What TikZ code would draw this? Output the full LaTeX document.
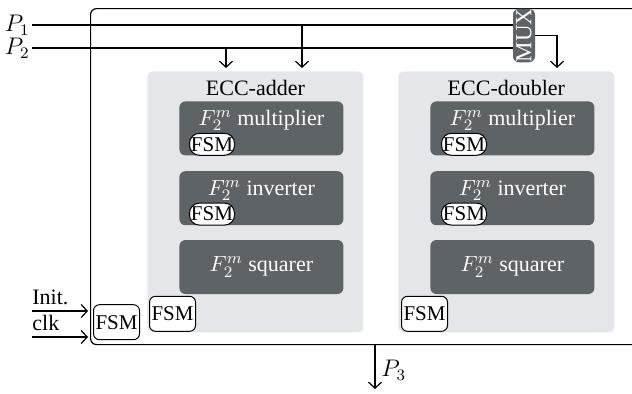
\documentclass[tikz,border=0pt]{standalone}
\usepackage{fontspec}
\setmainfont{Liberation Serif}
\usetikzlibrary{arrows.meta}
\usetikzlibrary{positioning}
\definecolor{unitgray}{HTML}{E4E6EA}
\definecolor{coregray}{HTML}{5D6367}

\begin{document}
\begin{tikzpicture}[x=0.5pt, y=-0.5pt, font=\fontsize{11}{13}\selectfont,
  wire/.style={line width=0.6pt},
  sig/.style={wire, -{Straight Barb[length=3pt, width=6.5pt]}},
  unit/.style={fill=unitgray, rounded corners=2.5pt, inner sep=0pt,
    minimum width=108pt, minimum height=130.5pt},
  core/.style={fill=coregray, text=white, rounded corners=3pt, inner sep=2.5pt,
    minimum width=82pt, minimum height=27pt},
  coretop/.style={core, text height=9.5pt, text depth=12.5pt},
  fsm/.style={draw, fill=white, line width=0.5pt, rounded corners=3pt, inner sep=1pt,
    minimum width=21.5pt, minimum height=17.5pt, font=\fontsize{10.5}{12}\selectfont},
  subfsm/.style={draw, fill=white, line width=0.5pt, rounded corners=5pt, inner sep=0.5pt,
    minimum width=22.5pt, minimum height=11pt, font=\fontsize{10.5}{12}\selectfont},
  mux/.style={fill=coregray, text=white, rounded corners=3pt, inner sep=0pt,
    rotate=90, minimum width=24.5pt, minimum height=11pt, font=\fontsize{11.5}{13}\selectfont}
]
  \useasboundingbox (0,0) rectangle (632,393);
  \clip (0,0) rectangle (632,393);

  % chip outline (runs past the right edge)
  \node[draw, wire, rounded corners=3pt, anchor=north west,
    minimum width=320pt, minimum height=168pt] (chip) at (90,8) {};

  % point units
  \node[unit, anchor=north west] (adder) at (147,71) {};
  \node[unit, anchor=north west] (doubler) at (398,71) {};
  \node at ([yshift=-8.5pt]adder.north) (adderlbl) {ECC-adder};
  \node at ([yshift=-8.5pt]doubler.north) (doublerlbl) {ECC-doubler};

  % field arithmetic cores
  \node[coretop, anchor=north west] (addmul) at (179,101) {$F_2^m$ multiplier};
  \node[coretop, below=7.5pt of addmul] (addinv) {$F_2^m$ inverter};
  \node[core, below=7pt of addinv] (addsq) {$F_2^m$ squarer};
  \node[coretop, anchor=north west] (dblmul) at (430,101) {$F_2^m$ multiplier};
  \node[coretop, below=7.5pt of dblmul] (dblinv) {$F_2^m$ inverter};
  \node[core, below=7pt of dblinv] (dblsq) {$F_2^m$ squarer};

  % controllers
  \node[subfsm, anchor=south west] (addmulfsm) at ([xshift=5pt]addmul.south west) {FSM};
  \node[subfsm, anchor=south west] (addinvfsm) at ([xshift=5pt]addinv.south west) {FSM};
  \node[subfsm, anchor=south west] (dblmulfsm) at ([xshift=5.5pt]dblmul.south west) {FSM};
  \node[subfsm, anchor=south west] (dblinvfsm) at ([xshift=5.5pt]dblinv.south west) {FSM};
  \node[fsm, anchor=south west] (adderfsm) at ([shift={(1pt,0.5pt)}]adder.south west) {FSM};
  \node[fsm, anchor=south west] (doublerfsm) at ([shift={(1.5pt,0.5pt)}]doubler.south west) {FSM};
  \node[fsm, anchor=south west] (chipfsm) at ([shift={(1.5pt,2.5pt)}]chip.south west) {FSM};

  % multiplexer
  \node[mux] (mux) at (524,35.5) {MUX};

  % inputs
  \coordinate (p1in) at (32,25);
  \coordinate (p2in) at (32,48);
  \node[left=1pt of p1in, inner sep=0pt, font=\fontsize{12}{14}\selectfont] (p1lbl) {$P_1$};
  \node[left=1pt of p2in, inner sep=0pt, font=\fontsize{12}{14}\selectfont] (p2lbl) {$P_2$};
  \draw[wire] (p1in) -- (p1in -| mux.north);
  \draw[wire] (p2in) -- (p2in -| mux.north);
  \coordinate (tap1) at (302,25);
  \coordinate (tap2) at (226,48);
  \draw[sig, shorten >=1.5pt] (tap2) -- (tap2 |- adder.north);
  \draw[sig, shorten >=1.5pt] (tap1) -- (tap1 |- adder.north);
  \coordinate (dblin) at (557,71);
  \draw[sig, shorten >=1.5pt] (mux.south) -| (dblin);

  % control inputs
  \coordinate (initin) at (32,311);
  \coordinate (clkin) at (32,337);
  \node[anchor=base west, inner sep=0pt] (initlbl) at ([yshift=3.5pt]initin) {Init.};
  \node[anchor=base west, inner sep=0pt] (clklbl) at ([yshift=3.5pt]clkin) {clk};
  \draw[sig, shorten >=1pt] (initin) -- (initin -| chip.west);
  \draw[sig, shorten >=1pt] (clkin) -- (clkin -| chip.west);

  % output
  \coordinate (p3out) at (375,344);
  \coordinate (p3end) at (375,389);
  \draw[sig] (p3out) -- (p3end);
  \node[right=2pt of p3out, yshift=-13pt, inner sep=1pt, font=\fontsize{12}{14}\selectfont] (p3lbl) {$P_3$};
\end{tikzpicture}
\end{document}
